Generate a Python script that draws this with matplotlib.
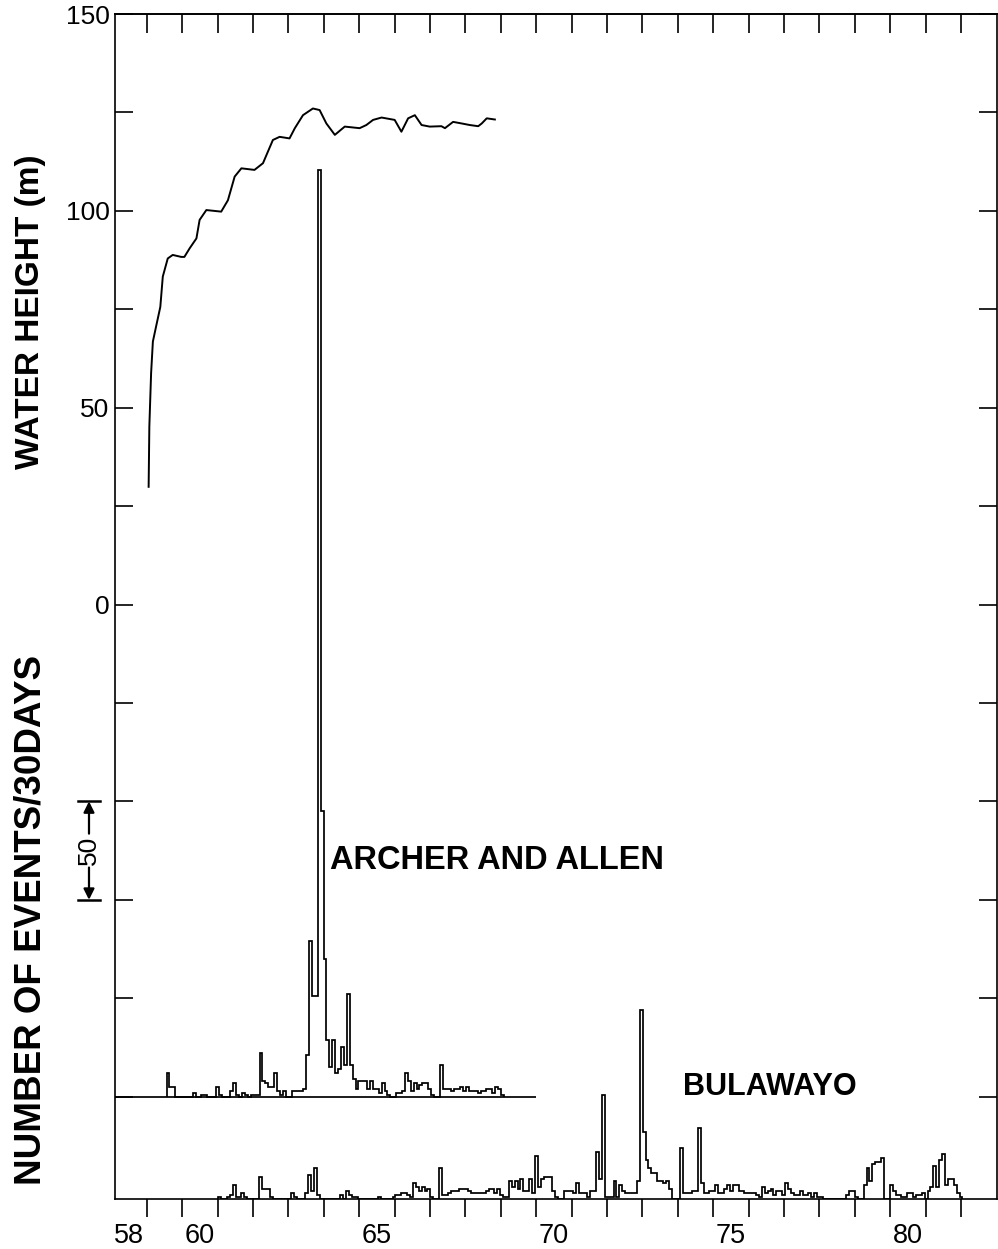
import numpy as np
import matplotlib
matplotlib.use("Agg")
import matplotlib.pyplot as plt
from matplotlib.transforms import blended_transform_factory

# ---------------- data ----------------
water_years = [1959.05, 1959.07, 1959.12, 1959.17, 1959.26, 1959.38, 1959.45, 1959.59,
               1959.73, 1959.97, 1960.06, 1960.21, 1960.40, 1960.49, 1960.68, 1961.10,
               1961.29, 1961.48, 1961.67, 1962.04, 1962.28, 1962.56, 1962.75, 1963.03,
               1963.18, 1963.41, 1963.69, 1963.88, 1964.07, 1964.31, 1964.59, 1965.01,
               1965.20, 1965.39, 1965.63, 1966.00, 1966.19, 1966.38, 1966.57, 1966.76,
               1966.99, 1967.32, 1967.42, 1967.65, 1967.89, 1968.12, 1968.36, 1968.46,
               1968.60, 1968.83]
water_height = [29.9, 45.2, 58.8, 66.8, 70.6, 75.6, 83.3, 87.9,
                88.8, 88.3, 88.3, 90.5, 93.0, 97.7, 100.2, 99.8,
                102.7, 108.7, 110.8, 110.4, 112.1, 118.0, 118.8, 118.4,
                121.0, 124.3, 126.0, 125.6, 122.2, 119.3, 121.4, 121.0,
                121.8, 123.1, 123.7, 123.1, 120.1, 123.5, 124.3, 121.8,
                121.4, 121.5, 121.0, 122.6, 122.2, 121.8, 121.5, 122.2,
                123.5, 123.2]

bin_days = 30
archer_start = 1959.555
archer_counts = [12, 5, 5, 0, 0, 0, 0, 0, 0, 2,
                 0, 0, 1, 1, 0, 0, 0, 5, 1, 0,
                 0, 0, 3, 7, 1, 0, 2, 1, 0, 1,
                 1, 1, 22, 8, 7, 5, 5, 12, 3, 1,
                 3, 0, 0, 3, 3, 3, 3, 4, 21, 79,
                 51, 51, 471, 145, 70, 29, 15, 29, 12, 14,
                 25, 16, 52, 16, 9, 4, 8, 8, 8, 4,
                 8, 4, 4, 2, 7, 3, 1, 0, 0, 2,
                 2, 3, 12, 8, 3, 7, 4, 6, 7, 7,
                 4, 1, 0, 0, 16, 4, 4, 4, 3, 4,
                 4, 5, 3, 5, 3, 3, 3, 2, 3, 3,
                 4, 4, 2, 5, 4, 1]
archer_line_end = 1970.0

bulawayo_start = 1961.012
bulawayo_counts = [1, 0, 0, 1, 2, 7, 1, 1, 3, 1,
                   0, 0, 0, 0, 11, 5, 5, 5, 1, 0,
                   0, 0, 0, 0, 0, 3, 1, 0, 0, 0,
                   3, 12, 4, 16, 2, 0, 0, 0, 0, 0,
                   0, 0, 2, 0, 4, 2, 1, 1, 0, 0,
                   0, 0, 0, 0, 0, 1, 0, 0, 0, 0,
                   1, 2, 2, 3, 3, 2, 1, 8, 6, 4,
                   6, 4, 5, 1, 0, 0, 16, 2, 2, 3,
                   4, 4, 4, 5, 5, 5, 4, 3, 3, 3,
                   3, 3, 4, 5, 5, 3, 5, 2, 1, 1,
                   9, 6, 9, 5, 10, 4, 4, 10, 3, 22,
                   6, 10, 11, 11, 11, 4, 1, 0, 0, 4,
                   4, 4, 3, 8, 3, 3, 3, 1, 4, 4,
                   24, 10, 53, 1, 1, 1, 9, 1, 7, 4,
                   3, 3, 3, 3, 9, 96, 34, 20, 16, 13,
                   13, 9, 9, 8, 9, 5, 0, 0, 0, 26,
                   3, 3, 3, 4, 4, 36, 8, 3, 3, 4,
                   4, 7, 3, 3, 5, 7, 4, 7, 7, 4,
                   4, 3, 3, 3, 3, 2, 1, 6, 3, 4,
                   5, 2, 4, 4, 2, 8, 5, 3, 2, 2,
                   4, 2, 2, 3, 1, 3, 1, 1, 0, 0,
                   0, 0, 0, 0, 0, 0, 2, 4, 4, 1,
                   0, 0, 7, 16, 9, 18, 19, 19, 21, 0,
                   0, 7, 4, 2, 2, 1, 1, 3, 3, 1,
                   2, 2, 3, 0, 4, 6, 17, 6, 20, 23,
                   7, 10, 10, 7, 3, 1]

archer_baseline = -125.0
bulawayo_baseline = -151.0
events_per_unit = 2.0          # 50 events span 25 axis units

year_label_pos = [1958.5, 1960.5, 1965.5, 1970.5, 1975.5, 1980.5]
year_labels = ["58", "60", "65", "70", "75", "80"]
height_labels = {0: "0", 50: "50", 100: "100", 150: "150"}

# ---------------- figure ----------------
W, H = 998, 1249
fig = plt.figure(figsize=(W / 100, H / 100), dpi=100)
L, R, T, B = 115, 996.5, 14, 1199
ax = fig.add_axes([L / W, 1 - B / H, (R - L) / W, (B - T) / H])
ax.set_xlim(1958.1, 1983.0)
ax.set_ylim(-151, 150)

lw_line = 1.25
# water height curve
ax.plot(water_years, water_height, color="black", lw=1.4)

# histograms
bw = bin_days / 365.25
a_vals = np.array(archer_counts, float) / events_per_unit + archer_baseline
a_edges = archer_start + bw * np.arange(len(archer_counts) + 1)
ax.stairs(a_vals, a_edges, baseline=archer_baseline, color="black", lw=lw_line)
ax.hlines(archer_baseline, 1958.1, archer_line_end, color="black", lw=lw_line)

b_vals = np.array(bulawayo_counts, float) / events_per_unit + bulawayo_baseline
b_edges = bulawayo_start + bw * np.arange(len(bulawayo_counts) + 1)
ax.stairs(b_vals, b_edges, baseline=bulawayo_baseline, color="black", lw=lw_line)

# ---------------- axes styling ----------------
for s in ax.spines.values():
    s.set_linewidth(1.2)

years = np.arange(1959, 1983)
ax.set_xticks(years)
ax.set_xticklabels([])
ax.tick_params(axis="x", which="major", direction="out", length=13, width=1.2,
               bottom=True, top=False)
ax.set_xticks(year_label_pos, minor=True)
ax.set_xticklabels(year_labels, minor=True)
ax.tick_params(axis="x", which="minor", length=0, pad=17, labelsize=19.5)

top = ax.secondary_xaxis("top")
top.set_xticks(years)
top.set_xticklabels([])
top.tick_params(direction="in", length=13.5, width=1.2)
top.spines["top"].set_linewidth(1.2)

yt = np.arange(-125, 151, 25)
ax.set_yticks(yt)
ax.set_yticklabels([height_labels.get(int(v), "") for v in yt])
ax.tick_params(axis="y", direction="in", length=13, width=1.2, left=True,
               right=True, pad=4, labelsize=19)

for lab in ax.get_xticklabels(minor=True) + ax.get_yticklabels():
    lab.set_family("Liberation Sans")

# ---------------- texts ----------------
fig.text(31 / W, 1 - 312 / H, "WATER HEIGHT (m)", rotation=90, ha="center",
         va="center", fontsize=24, fontweight="bold", family="Liberation Sans")
fig.text(31 / W, 1 - 920 / H, "NUMBER OF EVENTS/30DAYS", rotation=90, ha="center",
         va="center", fontsize=26.5, fontweight="bold", family="Liberation Sans")
ax.text(1964.17, -64.9, "ARCHER AND ALLEN", ha="left", va="center",
        fontsize=23.5, fontweight="bold", family="Liberation Sans")
ax.text(1974.15, -122.6, "BULAWAYO", ha="left", va="center",
        fontsize=22, fontweight="bold", family="Liberation Sans")

# scale bar: 50 events
trans = blended_transform_factory(ax.transAxes, ax.transData)
xb0, xb1, xc = -0.042, -0.017, -0.0295
for yb in (-50, -75):
    ax.plot([xb0, xb1], [yb, yb], transform=trans, color="black", lw=1.8,
            clip_on=False)
ax.text(xc, -62.5, "50", rotation=90, transform=trans, ha="center", va="center",
        fontsize=19, family="Liberation Sans")
for y0, y1 in ((-58.2, -50), (-66.8, -75)):
    ax.annotate("", xy=(xc, y1), xytext=(xc, y0), xycoords=trans, textcoords=trans,
                arrowprops=dict(arrowstyle="-|>", color="black", lw=1.6,
                                mutation_scale=16, shrinkA=0, shrinkB=0),
                annotation_clip=False)

fig.savefig("out.png", dpi=100)
